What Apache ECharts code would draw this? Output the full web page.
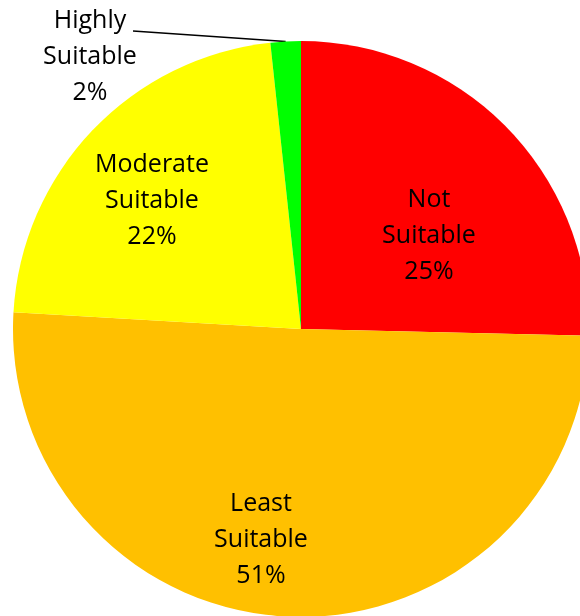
<!DOCTYPE html>
<html>
<head>
<meta charset="utf-8">
<script src="https://cdn.jsdelivr.net/npm/echarts@6/dist/echarts.min.js"></script>
<style>
  html, body { margin: 0; padding: 0; background: #fff; }
  #chart { width: 580px; height: 616px; }
</style>
</head>
<body>
<div id="chart"></div>
<script>
// slice data, clockwise from 12 o'clock
const categories = ['Not Suitable', 'Least Suitable', 'Moderate Suitable', 'Highly Suitable']
const shares = [25.4, 50.6, 22.4, 1.7]
const colors = ['#FF0000', '#FFC000', '#FFFF00', '#00FF00']

// where the text blocks sit on the page
const labelPos = [[429, 236], [261, 540], [152, 201], [90, 57]]
// leader of the small slice ends just after the word "Highly"
const leaderEnd = [133, 31]

const chart = echarts.init(document.getElementById('chart'))

chart.setOption({
  backgroundColor: '#fff',
  animation: false,
  series: [
    {
      type: 'pie',
      center: [301, 329],
      radius: 288,
      startAngle: 90,
      clockwise: true,
      percentPrecision: 0,
      itemStyle: { borderWidth: 0 },
      label: {
        position: 'inside',
        formatter: p => p.name.replace(' ', '\n') + '\n' + p.percent + '%',
        fontFamily: 'Open Sans',
        fontSize: 25,
        lineHeight: 36,
        color: '#000',
        align: 'center'
      },
      labelLine: { show: false },
      labelLayout: p => {
        const out = {
          x: labelPos[p.dataIndex][0],
          y: labelPos[p.dataIndex][1],
          align: 'center',
          verticalAlign: 'middle'
        }
        if (p.labelLinePoints) {
          out.labelLinePoints = [p.labelLinePoints[0], leaderEnd]
        }
        return out
      },
      data: categories.map((name, i) => {
        const item = { name, value: shares[i], itemStyle: { color: colors[i] } }
        if (i === 3) {
          item.label = { position: 'outside' }
          item.labelLine = {
            show: true,
            length: 10,
            length2: 10,
            lineStyle: { color: '#000', width: 1.5 }
          }
        }
        return item
      })
    }
  ]
})
</script>
</body>
</html>
